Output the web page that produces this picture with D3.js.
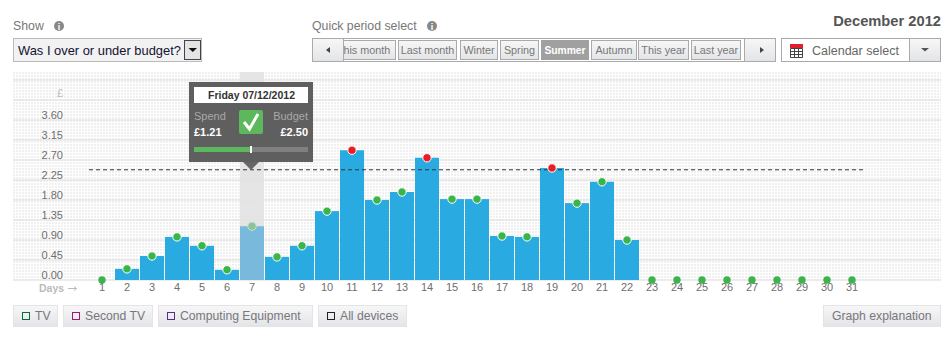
<!DOCTYPE html>
<html>
<head>
<meta charset="utf-8">
<script src="https://cdn.jsdelivr.net/npm/d3@7"></script>
<style>
    html, body { margin: 0; padding: 0; background: #fff; }
    svg { display: block; font-family: "Liberation Sans", Arial, sans-serif; }
    .yAxis path, .xAxis path, .xAxis line { display: none; }
</style>
</head>
<body>
<div id="chart"></div>
<script>
// chart values
const days = d3.range(1, 32);
const spend = [0, 0.25, 0.54, 0.97, 0.77, 0.23, 1.21, 0.52, 0.77, 1.55, 2.92, 1.80, 1.98, 2.75, 1.82, 1.82,
    0.99, 0.97, 2.52, 1.73, 2.21, 0.90, 0, 0, 0, 0, 0, 0, 0, 0, 0];
const budgetLine = 2.48;
const yTicks = [0, 0.45, 0.90, 1.35, 1.80, 2.25, 2.70, 3.15, 3.60, 4.05, 4.50];
const yLabels = ["0.00", "0.45", "0.90", "1.35", "1.80", "2.25", "2.70", "3.15", "3.60", "£", ""];

const selectedDay = 7;
const tooltipDate = "Friday 07/12/2012";
const tooltipSpend = "£1.21";
const tooltipBudget = "£2.50";

const periodLabels = ["This month", "Last month", "Winter", "Spring", "Summer", "Autumn", "This year", "Last year"];
const deviceLabels = ["TV", "Second TV", "Computing Equipment", "All devices"];
const deviceColors = ["#0b6b3c", "#9c1c6b", "#5c2a8c", "#222222"];

const svg = d3.select("#chart").append("svg")
    .attr("width", 952)
    .attr("height", 354);

const defs = svg.append("defs");

// dotted plot background
const dots = defs.append("pattern")
    .attr("id", "dots")
    .attr("width", 3).attr("height", 3)
    .attr("x", 13).attr("y", 72)
    .attr("patternUnits", "userSpaceOnUse");
dots.append("rect").attr("width", 3).attr("height", 3).attr("fill", "#fff");
dots.append("rect").attr("width", 2).attr("height", 2).attr("fill", "#f0f0f0");

const btnGrad = defs.append("linearGradient").attr("id", "btnGrad")
    .attr("x1", 0).attr("x2", 0).attr("y1", 0).attr("y2", 1);
btnGrad.append("stop").attr("offset", 0).attr("stop-color", "#f7f7f7");
btnGrad.append("stop").attr("offset", 1).attr("stop-color", "#e3e4e7");

defs.append("clipPath").attr("id", "periodClip")
    .append("rect").attr("x", 343).attr("y", 38).attr("width", 400).attr("height", 24);

// scales
const x = d3.scaleBand().domain(days).range([89.5, 864.5]).paddingInner(0.04).paddingOuter(0.02);
const y = d3.scaleLinear().domain([0, 3.6]).range([280, 120]);

function text(g, str, tx, ty, size, color, anchor, weight) {
    return g.append("text")
        .attr("x", tx).attr("y", ty)
        .attr("font-size", size)
        .attr("fill", color)
        .attr("text-anchor", anchor || "start")
        .attr("font-weight", weight || "normal")
        .text(str);
}

function button(g, bx, by, w, h, stroke) {
    return g.append("rect")
        .attr("x", bx + 0.5).attr("y", by + 0.5)
        .attr("width", w - 1).attr("height", h - 1)
        .attr("fill", "url(#btnGrad)")
        .attr("stroke", stroke);
}

function infoIcon(g, cx, cy) {
    g.append("circle").attr("cx", cx).attr("cy", cy).attr("r", 5).attr("fill", "#888888");
    text(g, "i", cx, cy + 3.5, 9, "#fff", "middle", "bold");
}

// plot background and grid
const plot = svg.append("g");
plot.append("rect")
    .attr("x", 13).attr("y", 72)
    .attr("width", 928).attr("height", 208)
    .attr("fill", "url(#dots)");

const yAxis = d3.axisLeft(y)
    .tickValues(yTicks)
    .tickSize(0)
    .tickFormat((d, i) => yLabels[i]);

plot.append("g")
    .selectAll("line")
    .data(yTicks)
    .enter().append("line")
    .attr("x1", 13).attr("x2", 941)
    .attr("y1", d => y(d)).attr("y2", d => y(d))
    .attr("stroke", "#e6e6e6")
    .attr("stroke-width", 1.5);

plot.append("g")
    .attr("class", "yAxis")
    .attr("transform", "translate(63,0)")
    .call(yAxis)
    .selectAll("text")
    .attr("x", 0)
    .attr("y", d => d === 4.05 ? -7.5 : -5.5)
    .attr("font-family", "Liberation Sans, Arial, sans-serif")
    .attr("font-size", 11)
    .attr("fill", d => d === 4.05 ? "#bbbbbb" : "#6e6e6e");

// highlighted day
plot.append("rect")
    .attr("x", x(selectedDay)).attr("y", 72)
    .attr("width", x.bandwidth()).attr("height", 208)
    .attr("fill", "#e2e2e2")
    .attr("opacity", 0.9);

// bars
plot.append("g").selectAll("rect")
    .data(days)
    .enter().append("rect")
    .attr("x", d => x(d))
    .attr("y", (d, i) => y(spend[i]))
    .attr("width", x.bandwidth())
    .attr("height", (d, i) => 280 - y(spend[i]))
    .attr("fill", d => d === selectedDay ? "#78b9dc" : "#29abe2");

// budget line
plot.append("line")
    .attr("x1", 89).attr("x2", 864)
    .attr("y1", y(budgetLine)).attr("y2", y(budgetLine))
    .attr("stroke", "#333")
    .attr("stroke-dasharray", "4,3");

// status dots
plot.append("g").selectAll("circle")
    .data(days)
    .enter().append("circle")
    .attr("cx", d => x(d) + x.bandwidth() / 2)
    .attr("cy", (d, i) => y(spend[i]))
    .attr("r", (d, i) => spend[i] > 0 ? 4.2 : 3.7)
    .attr("stroke", (d, i) => spend[i] > 0 ? (d === selectedDay ? "#cfe3d4" : "#fff") : "none")
    .attr("stroke-width", 1)
    .attr("fill", (d, i) => {
        if (d === selectedDay) return "#8cc39a";
        return spend[i] > budgetLine ? "#ed1c24" : "#39b54a";
    });

// day axis
const xAxis = d3.axisBottom(x).tickSize(0);
plot.append("g")
    .attr("class", "xAxis")
    .attr("transform", "translate(0,280)")
    .call(xAxis)
    .selectAll("text")
    .attr("y", 3)
    .attr("dy", "0.71em")
    .attr("font-family", "Liberation Sans, Arial, sans-serif")
    .attr("font-size", 11)
    .attr("fill", "#6e6e6e");

text(plot, "Days", 39, 292, 10.5, "#bbbbbb", "start", "bold");
plot.append("path")
    .attr("d", "M68 288.5H76.5M74 286.5L76.5 288.5L74 290.5")
    .attr("fill", "none")
    .attr("stroke", "#bbbbbb");

// tooltip
const tip = svg.append("g");
tip.append("path")
    .attr("d", "M243 162H259L251 170Z")
    .attr("fill", "#666666");
tip.append("rect")
    .attr("x", 189).attr("y", 82)
    .attr("width", 124).attr("height", 80)
    .attr("fill", "#5f5f5f");
tip.append("rect")
    .attr("x", 194).attr("y", 87)
    .attr("width", 114).attr("height", 16)
    .attr("fill", "#fff");
text(tip, tooltipDate, 251.5, 99, 10.5, "#333333", "middle", "bold");
text(tip, "Spend", 194, 120, 11, "#a8a8a8");
text(tip, "Budget", 308, 120, 11, "#a8a8a8", "end");
text(tip, tooltipSpend, 194, 136, 11, "#ffffff", "start", "bold");
text(tip, tooltipBudget, 308, 136, 11, "#ffffff", "end", "bold");
tip.append("rect")
    .attr("x", 239).attr("y", 110)
    .attr("width", 24).attr("height", 24)
    .attr("rx", 2)
    .attr("fill", "#5cb85c");
tip.append("path")
    .attr("d", "M244 122L249.5 129L258 114")
    .attr("fill", "none")
    .attr("stroke", "#fff")
    .attr("stroke-width", 3);
tip.append("rect")
    .attr("x", 194).attr("y", 147)
    .attr("width", 114).attr("height", 5)
    .attr("fill", "#808080");
tip.append("rect")
    .attr("x", 194).attr("y", 147)
    .attr("width", 56).attr("height", 5)
    .attr("fill", "#5cb85c");
tip.append("rect")
    .attr("x", 250).attr("y", 146)
    .attr("width", 2).attr("height", 7)
    .attr("fill", "#fff");

// top controls
const controls = svg.append("g");
text(controls, "Show", 13, 30, 12.3, "#777777");
infoIcon(controls, 59, 26);
controls.append("rect")
    .attr("x", 13.5).attr("y", 38.5)
    .attr("width", 188).attr("height", 23)
    .attr("fill", "#f2f2f2")
    .attr("stroke", "#bbbbbb");
text(controls, "Was I over or under budget?", 18, 55, 12.9, "#111133");
controls.append("rect")
    .attr("x", 184.5).attr("y", 40.5)
    .attr("width", 16).attr("height", 19)
    .attr("fill", "#e4e4e4")
    .attr("stroke", "#444");
controls.append("path").attr("d", "M188.5 48H197L192.75 52Z").attr("fill", "#111");

text(controls, "Quick period select", 312, 30, 12.3, "#777777");
infoIcon(controls, 432, 26);

// period button strip
controls.append("rect")
    .attr("x", 312.5).attr("y", 38.5)
    .attr("width", 463).attr("height", 23)
    .attr("fill", "#fff")
    .attr("stroke", "#aaaaaa");

const periodX = [331, 398, 460, 500, 541, 591, 638, 691];
const periodW = [65, 59, 38, 39, 48, 46, 51, 50];
const periods = controls.append("g").attr("clip-path", "url(#periodClip)");
periodLabels.forEach((label, i) => {
    const on = label === "Summer";
    if (on) {
        periods.append("rect")
            .attr("x", periodX[i]).attr("y", 40)
            .attr("width", periodW[i]).attr("height", 20)
            .attr("fill", "#a0a0a0");
    } else {
        button(periods, periodX[i], 40, periodW[i], 20, "#aaaaaa");
    }
    text(periods, label, periodX[i] + periodW[i] / 2, 54, on ? 10.3 : 10.8, on ? "#fff" : "#777777", "middle", on ? "bold" : "normal");
});

button(controls, 312, 38, 32, 24, "#aaaaaa");
controls.append("path").attr("d", "M330 47V53L326 50Z").attr("fill", "#444");
button(controls, 744, 38, 32, 24, "#aaaaaa");
controls.append("path").attr("d", "M760 47V53L764 50Z").attr("fill", "#444");

// calendar select
controls.append("rect")
    .attr("x", 781.5).attr("y", 38.5)
    .attr("width", 159).attr("height", 23)
    .attr("fill", "#fff")
    .attr("stroke", "#aaaaaa");
button(controls, 909, 38, 32, 24, "#aaaaaa");
controls.append("path").attr("d", "M921 48H929L925 51.5Z").attr("fill", "#555");
controls.append("rect").attr("x", 790).attr("y", 44).attr("width", 13).attr("height", 4).attr("fill", "#e0202a");
controls.append("path")
    .attr("d", "M790.5 48.5H802.5V57.5H790.5ZM790.5 51.5H802.5M790.5 54.5H802.5M794.5 48.5V57.5M798.5 48.5V57.5")
    .attr("fill", "none")
    .attr("stroke", "#444");
text(controls, "Calendar select", 812, 55, 12.5, "#666666");

text(controls, "December 2012", 941, 26, 14.7, "#555555", "end", "bold");

// device toggles
const toggles = svg.append("g");
const deviceX = [13, 63, 158, 318];
const deviceW = [45, 90, 155, 89];
deviceLabels.forEach((label, i) => {
    button(toggles, deviceX[i], 305, deviceW[i], 22, "#e4e4e8");
    toggles.append("rect")
        .attr("x", deviceX[i] + 9.5).attr("y", 312.5)
        .attr("width", 7).attr("height", 7)
        .attr("fill", "none")
        .attr("stroke", deviceColors[i]);
    text(toggles, label, deviceX[i] + 22, 320, 12.2, "#77777d");
});

button(toggles, 823, 305, 118, 22, "#e4e4e8");
text(toggles, "Graph explanation", 832, 320, 12.2, "#77777d");
</script>
</body>
</html>
